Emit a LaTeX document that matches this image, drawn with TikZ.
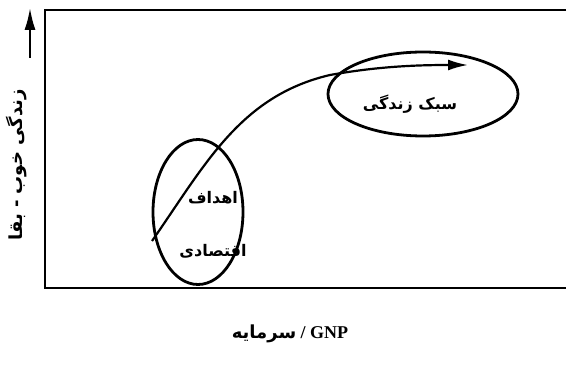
\documentclass[tikz,border=0pt]{standalone}
\usepackage{fontspec}
\setmainfont{Liberation Serif}
\newfontfamily\arabicfont[Script=Arabic]{DejaVu Sans}
\TeXXeTstate=1
\usetikzlibrary{shapes.geometric,arrows.meta}
\begin{document}
\begin{tikzpicture}[x=1pt,y=-1pt,
  frame/.style={line width=2.2pt},
  oval/.style={draw,ellipse,line width=2.8pt,inner sep=0pt},
  fa/.style={font=\arabicfont\bfseries\fontsize{16}{18}\selectfont},
  flow/.style={line width=2.2pt,-{Latex[length=20pt,width=11pt]}}]
\useasboundingbox (0,0) rectangle (570,374);
% frame
\coordinate (tl) at (45,10);
\coordinate (tr) at (566,10);
\coordinate (bl) at (45,288);
\coordinate (br) at (566,288);
\draw[frame] (tr) -- (tl) -- (bl) -- (br);
% y axis arrow and label
\coordinate (ya) at (30,58);
\coordinate (yb) at (30,8);
\draw[line width=2pt,-{Latex[length=22pt,width=11pt]}] (ya) -- (yb);
\node[fa,rotate=90,font=\arabicfont\bfseries\fontsize{18}{20}\selectfont] (ylab) at (17,165) {\beginR زندگی خوب - بقا\endR};
% ellipses
\node[oval,minimum width=90pt,minimum height=145pt] (eco) at (198,212) {};
\node[oval,minimum width=190pt,minimum height=84pt] (life) at (423,94) {};
\node[fa] (t1) at (213,198) {\beginR اهداف\endR};
\node[fa] (t2) at (213,251) {\beginR اقتصادی\endR};
\node[fa] (t3) at (410,104) {\beginR سبک زندگی\endR};
% curve
\coordinate (s) at (152,241);
\coordinate (e) at (468,65);
\draw[flow] (s) .. controls (205,165) and (240,96) .. (330,75) .. controls (380,66) and (420,65) .. (e);
% x label
\node[font=\bfseries\fontsize{18}{20}\selectfont] (xlab) at (290,334) {{\arabicfont\beginR سرمایه\endR} / GNP};
\end{tikzpicture}
\end{document}
